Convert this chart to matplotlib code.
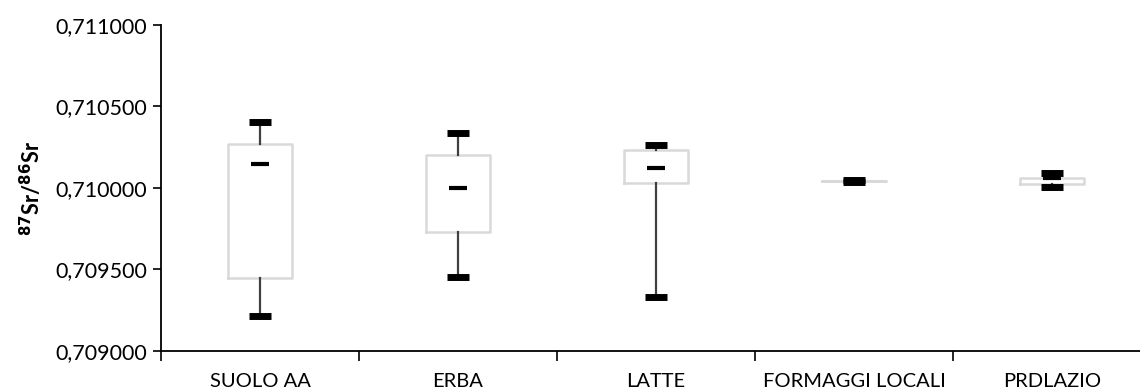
import matplotlib
matplotlib.use('Agg')
import matplotlib.pyplot as plt
from matplotlib.ticker import FuncFormatter, FixedLocator, NullFormatter

# valori (87Sr/86Sr)
categorie = ['SUOLO AA', 'ERBA', 'LATTE', 'FORMAGGI LOCALI', 'PRDLAZIO']
minimo = [0.709215, 0.709456, 0.709333, 0.710035, 0.710009]
q1 = [0.709446, 0.709732, 0.710030, 0.710042, 0.710022]
q3 = [0.710270, 0.710202, 0.710235, 0.710042, 0.710059]
massimo = [0.710407, 0.710337, 0.710261, 0.710050, 0.710092]
media = [0.710145, 0.709998, 0.710120, 0.710042, 0.710062]

plt.rcParams['font.family'] = ['Lato', 'DejaVu Sans']

stats = []
for i in range(len(categorie)):
    stats.append({'label': categorie[i], 'whislo': minimo[i], 'q1': q1[i],
                  'med': media[i], 'q3': q3[i], 'whishi': massimo[i],
                  'mean': media[i]})

fig = plt.figure(figsize=(11.4, 3.9), dpi=100)
ax = fig.add_axes([161 / 1140, 0.1, 990 / 1140, 0.836])

pos = list(range(1, len(categorie) + 1))
ax.bxp(stats, positions=pos, widths=0.32, capwidths=0.11, showmeans=True,
       showfliers=False,
       boxprops=dict(color='#d9d9d9', linewidth=1.8),
       whiskerprops=dict(color='#404040', linewidth=1.6),
       capprops=dict(color='black', linewidth=5, solid_capstyle='butt'),
       medianprops=dict(linewidth=0),
       meanprops=dict(marker='_', markersize=13, markeredgewidth=3,
                      color='black', markeredgecolor='black'),
       zorder=3)

ax.set_xlim(0.5, len(categorie) + 0.5)
ax.set_ylim(0.709, 0.711)
ax.set_yticks([0.709, 0.7095, 0.710, 0.7105, 0.711])
ax.yaxis.set_major_formatter(FuncFormatter(lambda v, p: f'{v:.6f}'.replace('.', ',')))

# tacche tra le categorie, etichette al centro
ax.xaxis.set_major_locator(FixedLocator([p + 0.5 for p in range(len(categorie))]))
ax.xaxis.set_major_formatter(NullFormatter())
ax.xaxis.set_minor_locator(FixedLocator(pos))
ax.set_xticklabels(categorie, minor=True)
ax.tick_params(axis='x', which='major', length=7, width=1.2, direction='out')
ax.tick_params(axis='x', which='minor', length=0, pad=16, labelsize=14.5)
ax.tick_params(axis='y', length=6, width=1.2, labelsize=15.5, pad=4)

for s in ['top', 'right']:
    ax.spines[s].set_visible(False)
for s in ['left', 'bottom']:
    ax.spines[s].set_linewidth(1.3)
    ax.spines[s].set_color('black')

ax.set_ylabel(r'$^{\mathbf{87}}$Sr/$^{\mathbf{86}}$Sr', fontsize=15.5, fontweight='bold', labelpad=8)

fig.savefig('out.png', dpi=100)
